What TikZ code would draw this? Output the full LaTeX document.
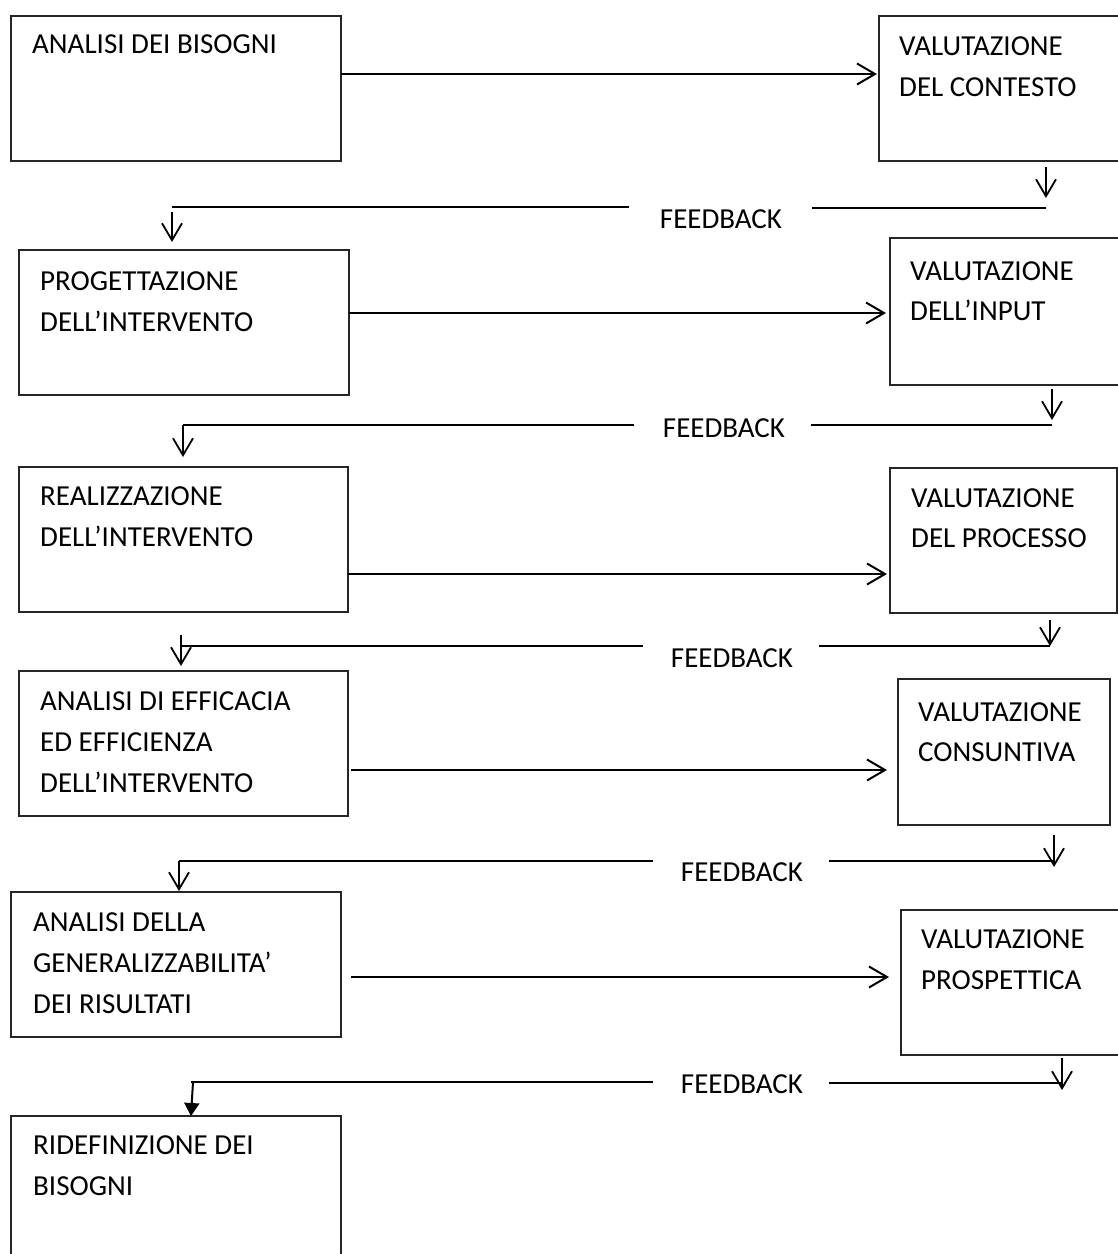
\documentclass[tikz,border=0pt]{standalone}
\usepackage{fontspec}
\setmainfont{Carlito}
\usetikzlibrary{arrows.meta}
\begin{document}
\begin{tikzpicture}[x=1pt,y=-1pt,
  box/.style={draw=black!85, line width=1.3pt, anchor=north west, inner sep=0pt, outer sep=0pt},
  txt/.style={anchor=base west, inner sep=0pt, font=\fontsize{29}{35}\selectfont},
  fbtxt/.style={anchor=base, inner sep=0pt, font=\fontsize{29}{35}\selectfont},
  flow/.style={line width=2pt, -{Straight Barb[length=18pt,width=21pt,line width=2pt]}},
  drop/.style={line width=1.8pt, -{Straight Barb[length=17pt,width=20pt,line width=1.8pt]}},
  dropfill/.style={line width=2pt, -{Triangle[length=13pt,width=15pt]}},
  ret/.style={line width=1.8pt}
]
\useasboundingbox (0,0) rectangle (1118,1254);

% boxes: left column (actions), right column (evaluations)
\node[box, minimum width=330pt, minimum height=145pt] (b1) at (11,16) {};
\node[box, minimum width=245pt, minimum height=145pt] (b2) at (879,16) {};
\node[box, minimum width=330pt, minimum height=145pt] (b3) at (19,250) {};
\node[box, minimum width=230pt, minimum height=147pt] (b4) at (890,238) {};
\node[box, minimum width=329pt, minimum height=145pt] (b5) at (19,467) {};
\node[box, minimum width=227pt, minimum height=145pt] (b6) at (890,468) {};
\node[box, minimum width=329pt, minimum height=145pt] (b7) at (19,671) {};
\node[box, minimum width=212pt, minimum height=146pt] (b8) at (898,679) {};
\node[box, minimum width=330pt, minimum height=145pt] (b9) at (11,892) {};
\node[box, minimum width=222pt, minimum height=145pt] (b10) at (901,910) {};
\node[box, minimum width=330pt, minimum height=150pt] (b11) at (11,1116) {};

% box texts
\node[txt] (t1a) at (32,53) {ANALISI DEI BISOGNI};
\node[txt] (t2a) at (899,55) {VALUTAZIONE};
\node[txt] (t2b) at (899,96) {DEL CONTESTO};
\node[txt] (t3a) at (40,290) {PROGETTAZIONE};
\node[txt] (t3b) at (40,331) {DELL’INTERVENTO};
\node[txt] (t4a) at (910,280) {VALUTAZIONE};
\node[txt] (t4b) at (910,320) {DELL’INPUT};
\node[txt] (t5a) at (40,505) {REALIZZAZIONE};
\node[txt] (t5b) at (40,546) {DELL’INTERVENTO};
\node[txt] (t6a) at (911,507) {VALUTAZIONE};
\node[txt] (t6b) at (911,547) {DEL PROCESSO};
\node[txt] (t7a) at (40,710) {ANALISI DI EFFICACIA};
\node[txt] (t7b) at (40,751) {ED EFFICIENZA};
\node[txt] (t7c) at (40,792) {DELL’INTERVENTO};
\node[txt] (t8a) at (918,721) {VALUTAZIONE};
\node[txt] (t8b) at (918,761) {CONSUNTIVA};
\node[txt] (t9a) at (33,931) {ANALISI DELLA};
\node[txt] (t9b) at (33,972) {GENERALIZZABILITA’};
\node[txt] (t9c) at (33,1013) {DEI RISULTATI};
\node[txt] (t10a) at (921,948) {VALUTAZIONE};
\node[txt] (t10b) at (921,989) {PROSPETTICA};
\node[txt] (t11a) at (33,1154) {RIDEFINIZIONE DEI};
\node[txt] (t11b) at (33,1195) {BISOGNI};

% forward arrows
\draw[flow] (b1.east |- 0,74) -- ([xshift=-2pt]b2.west |- 0,74);
\draw[flow] (b3.east |- 0,313) -- ([xshift=-4pt]b4.west |- 0,313);
\draw[flow] (b5.east |- 0,574) -- ([xshift=-3pt]b6.west |- 0,574);
\draw[flow] ([xshift=3pt]b7.east |- 0,770) -- ([xshift=-11pt]b8.west |- 0,770);
\draw[flow] ([xshift=10pt]b9.east |- 0,977) -- ([xshift=-12pt]b10.west |- 0,977);

% feedback labels
\node[fbtxt] (fb1) at (721,228) {FEEDBACK};
\node[fbtxt] (fb2) at (724,437) {FEEDBACK};
\node[fbtxt] (fb3) at (732,667) {FEEDBACK};
\node[fbtxt] (fb4) at (742,881) {FEEDBACK};
\node[fbtxt] (fb5) at (742,1093) {FEEDBACK};

% feedback return paths
\coordinate (r1) at (1046,208); \coordinate (l1) at (172,207);
\coordinate (r2) at (1052,425); \coordinate (l2) at (183,425);
\coordinate (r3) at (1050,646); \coordinate (l3) at (181,646);
\coordinate (r4) at (1054,861); \coordinate (l4) at (179,861);
\coordinate (r5) at (1062,1083); \coordinate (l5) at (191,1082);

\draw[drop] ([yshift=-6pt]b2.south -| r1) -- ([yshift=10pt]r1);
\draw[ret] (r1) -- ([xshift=30pt]fb1.east |- r1);
\draw[ret] ([xshift=-31pt]fb1.west |- l1) -- (l1);
\draw[drop] ([yshift=-5pt]l1) -- ([yshift=8pt]b3.north -| l1);

\draw[drop] ([yshift=-4pt]b4.south -| r2) -- ([yshift=5pt]r2);
\draw[ret] (r2) -- ([xshift=26pt]fb2.east |- r2);
\draw[ret] ([xshift=-29pt]fb2.west |- l2) -- (l2);
\draw[drop] (l2) -- ([yshift=10pt]b5.north -| l2);

\draw[drop] ([yshift=-7pt]b6.south -| r3) -- (r3);
\draw[ret] (r3) -- ([xshift=26pt]fb3.east |- r3);
\draw[ret] ([xshift=-28pt]fb3.west |- l3) -- (l3);
\draw[drop] ([yshift=11pt]l3) -- ([yshift=5pt]b7.north -| l3);

\draw[drop] ([yshift=-10pt]b8.south -| r4) -- ([yshift=-6pt]r4);
\draw[ret] (r4) -- ([xshift=26pt]fb4.east |- r4);
\draw[ret] ([xshift=-28pt]fb4.west |- l4) -- (l4);
\draw[drop] (l4) -- ([yshift=1pt]b9.north -| l4);

\draw[drop] ([yshift=-3pt]b10.south -| r5) -- ([yshift=-7pt]r5);
\draw[ret] (r5) -- ([xshift=26pt]fb5.east |- r5);
\draw[ret] ([xshift=-28pt]fb5.west |- l5) -- (l5);
\draw[dropfill] ([xshift=2pt]l5) -- (b11.north -| l5);
\end{tikzpicture}
\end{document}
